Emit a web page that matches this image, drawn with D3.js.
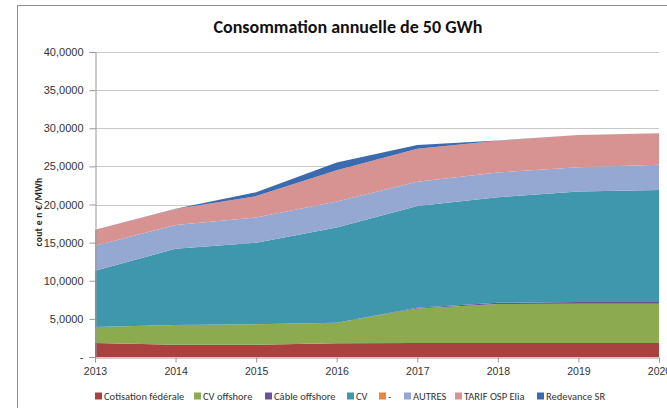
<!DOCTYPE html>
<html>
<head>
<meta charset="utf-8">
<script src="https://cdn.jsdelivr.net/npm/d3@7"></script>
<style>
  body { margin: 0; background: #fff; }
  svg { display: block; font-family: Calibri, Carlito, "Liberation Sans", sans-serif; }
</style>
</head>
<body>
<div id="chart"></div>
<script>
const years = [2013, 2014, 2015, 2016, 2017, 2018, 2019, 2020]
const yTicks = [0, 5, 10, 15, 20, 25, 30, 35, 40]

// values in €/MWh, stacked bottom to top
const cotisation = [1.85, 1.6, 1.6, 1.8, 1.85, 1.85, 1.85, 1.85]
const cvOffshore = [2.1, 2.6, 2.7, 2.7, 4.5, 5.1, 5.15, 5.15]
const cableOffshore = [0, 0, 0, 0, 0.1, 0.15, 0.2, 0.2]
const cv = [7.35, 10.0, 10.7, 12.5, 13.35, 13.85, 14.5, 14.7]
const tiret = [0, 0, 0, 0, 0, 0, 0, 0]
const autres = [3.3, 3.1, 3.3, 3.4, 3.2, 3.25, 3.2, 3.3]
const tarifOsp = [2.1, 2.1, 2.8, 4.1, 4.3, 4.15, 4.2, 4.15]
const redevance = [0, 0.05, 0.5, 1.0, 0.5, 0.05, 0, 0]

const series = [
  {name: 'Cotisation fédérale', values: cotisation, color: '#A9413F'},
  {name: 'CV offshore', values: cvOffshore, color: '#8CAA4E'},
  {name: 'Câble offshore', values: cableOffshore, color: '#6A5494'},
  {name: 'CV', values: cv, color: '#3F97AE'},
  {name: '-', values: tiret, color: '#E8883E'},
  {name: 'AUTRES', values: autres, color: '#95A8D1'},
  {name: 'TARIF OSP Elia', values: tarifOsp, color: '#D69391'},
  {name: 'Redevance SR', values: redevance, color: '#3B6BAE'}
]

const W = 667, H = 408
const svg = d3.select('#chart').append('svg')
  .attr('width', W).attr('height', H)

// outer chart border
svg.append('path')
  .attr('d', `M17.5,${H} V5.5 H${W}`)
  .attr('fill', 'none').attr('stroke', '#8c8c8c').attr('stroke-width', 1)

const x = d3.scaleLinear().domain([2013, 2020]).range([95, 659])
const y = d3.scaleLinear().domain([0, 40]).range([357, 52])

// gridlines
svg.append('g').selectAll('line')
  .data(yTicks.slice(1))
  .enter().append('line')
  .attr('x1', x(2013)).attr('x2', x(2020))
  .attr('y1', d => Math.round(y(d)) + 0.5).attr('y2', d => Math.round(y(d)) + 0.5)
  .attr('stroke', '#c8c8c8')

const rows = years.map((yr, i) => {
  let r = {year: yr}
  series.forEach(s => { r[s.name] = s.values[i] })
  return r
})
const stack = d3.stack().keys(series.map(s => s.name))(rows)

const area = d3.area()
  .x(d => x(d.data.year))
  .y0(d => y(d[0]))
  .y1(d => y(d[1]))

svg.append('g').selectAll('path')
  .data(stack)
  .enter().append('path')
  .attr('d', area)
  .attr('fill', (d, i) => series[i].color)

// axes
const yAxis = d3.axisLeft(y).tickValues(yTicks).tickSize(6).tickPadding(6)
  .tickFormat(d => d === 0 ? '-' : d + ',0000')
const gy = svg.append('g').attr('transform', 'translate(95.5,0)').call(yAxis)
gy.selectAll('text').attr('fill', '#333').style('font-size', '11px')
gy.select('.domain').attr('stroke', '#999')
gy.selectAll('.tick line').attr('stroke', '#999')

const xAxis = d3.axisBottom(x).tickValues(years).tickFormat(d3.format('d')).tickSize(5).tickPadding(5)
const gx = svg.append('g').attr('transform', 'translate(0,357.5)').call(xAxis)
gx.selectAll('text').attr('fill', '#333').style('font-size', '10.5px')
gx.select('.domain').attr('stroke', '#999')
gx.selectAll('.tick line').attr('stroke', '#999')

// title
svg.append('text')
  .attr('x', 348).attr('y', 33)
  .attr('text-anchor', 'middle')
  .style('font-size', '18px').style('font-weight', 'bold')
  .attr('fill', '#111')
  .text('Consommation annuelle de 50 GWh')

// y label
svg.append('text')
  .attr('transform', 'translate(42,212) rotate(-90)')
  .attr('text-anchor', 'middle')
  .style('font-size', '9.5px').style('font-weight', 'bold')
  .style('letter-spacing', '0.3px')
  .attr('fill', '#222')
  .text('cout e n €/MWh')

// legend
const legendX = [98, 197, 268, 350, 382, 407, 458, 540]
const lg = svg.append('g').selectAll('g')
  .data(series)
  .enter().append('g')
  .attr('transform', (d, i) => `translate(${legendX[i]},396)`)
lg.append('rect')
  .attr('x', -3).attr('y', -3.5).attr('width', 7).attr('height', 7)
  .attr('fill', d => d.color)
lg.append('text')
  .attr('x', 6).attr('y', 4)
  .style('font-size', '10.5px').attr('fill', '#333')
  .text(d => d.name)
</script>
</body>
</html>
